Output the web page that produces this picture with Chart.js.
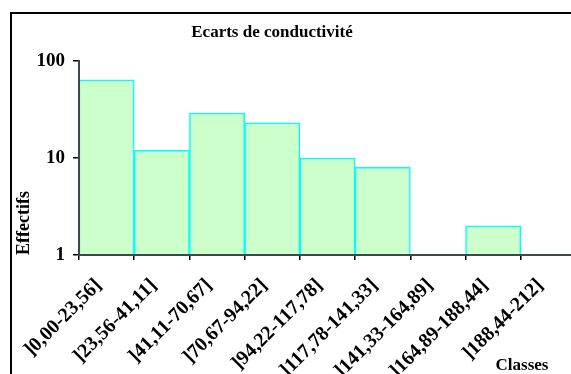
<!DOCTYPE html>
<html lang="fr">
<head>
<meta charset="UTF-8">
<title>Ecarts de conductivité</title>
<script src="https://cdn.jsdelivr.net/npm/chart.js"></script>
<style>
  html, body { margin:0; padding:0; width:571px; height:374px; overflow:hidden; background:#fff; }
  #frame { position:absolute; left:10px; top:12px; width:700px; height:500px; border:2px solid #000; }
  #c { position:absolute; left:0; top:0; }
</style>
</head>
<body>
<div id="frame"></div>
<canvas id="c" width="600" height="374"></canvas>
<script>
// données
const classes = [']0,00-23,56]', ']23,56-41,11]', ']41,11-70,67]', ']70,67-94,22]', ']94,22-117,78]',
                 ']117,78-141,33]', ']141,33-164,89]', ']164,89-188,44]', ']188,44-212]'];
const effectifs = [64, 12, 29, 23, 10, 8, 0, 2, 0];
const yTicks = [1, 10, 100];
const titre = 'Ecarts de conductivité';
const titreY = 'Effectifs';
const titreX = 'Classes';

const serif = '"Liberation Serif", "Times New Roman", serif';
const axisColor = '#3a4a4a';

// titre + "Classes" dessinés à la main (positions Excel)
const texts = {
  id: 'texts',
  afterDraw(chart) {
    const ctx = chart.ctx;
    ctx.save();
    ctx.fillStyle = '#000';
    ctx.textAlign = 'center';
    ctx.textBaseline = 'alphabetic';
    ctx.font = 'bold 17px ' + serif;
    ctx.fillText(titre, 272, 37);
    ctx.fillText(titreX, 522, 370);
    ctx.restore();
  }
};

new Chart(document.getElementById('c'), {
  type: 'bar',
  data: {
    labels: classes,
    datasets: [{
      data: effectifs.map(v => v > 0 ? v : null),
      backgroundColor: '#CCFFCC',
      borderColor: '#00FFFF',
      borderWidth: 1.5,
      barPercentage: 1,
      categoryPercentage: 1
    }]
  },
  options: {
    responsive: false,
    animation: false,
    layout: { padding: { top: 61, right: 24, left: 0, bottom: 0 } },
    plugins: { legend: { display: false }, tooltip: { enabled: false }, title: { display: false } },
    scales: {
      x: {
        offset: true,
        afterFit: s => { s.height = 119; },
        grid: { display: true, drawOnChartArea: false, drawTicks: true, tickLength: 5, offset: true, color: '#000', lineWidth: 1.5, z: 1 },
        border: { display: true, color: axisColor, width: 2, z: 1 },
        ticks: {
          autoSkip: false, maxRotation: 45, minRotation: 45,
          color: '#000', font: { family: serif, size: 20, weight: 'bold' },
          padding: 14, labelOffset: -8
        }
      },
      y: {
        type: 'logarithmic',
        min: 1, max: 100,
        afterFit: s => { s.width = 79; },
        afterBuildTicks: s => { s.ticks = yTicks.map(v => ({ value: v })); },
        grid: { display: true, drawOnChartArea: false, drawTicks: true, tickLength: 6, color: '#000', lineWidth: 1.5, z: 1 },
        border: { display: true, color: axisColor, width: 2, z: 1 },
        ticks: {
          color: '#000', font: { family: serif, size: 19, weight: 'bold' }, padding: 8,
          callback: v => String(v)
        },
        title: {
          display: true, text: titreY, align: 'start',
          color: '#000', font: { family: serif, size: 18, weight: 'bold' },
          padding: { top: 14, bottom: 0 }
        }
      }
    }
  },
  plugins: [texts]
});
</script>
</body>
</html>
